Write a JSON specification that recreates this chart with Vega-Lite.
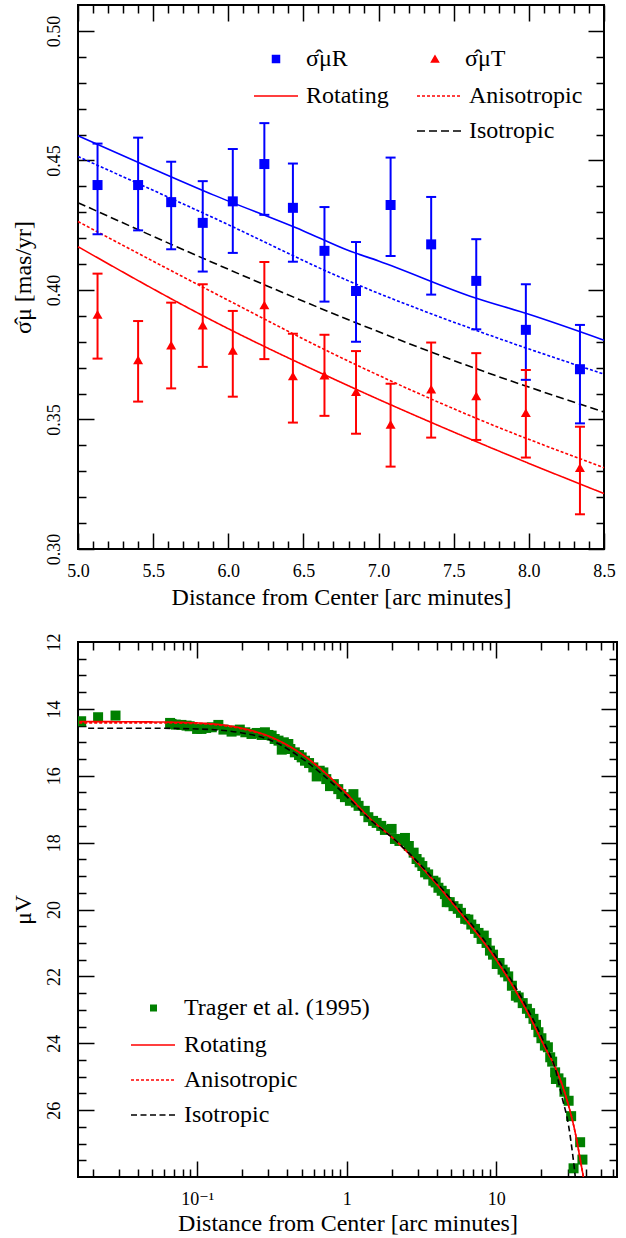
{
  "$schema": "https://vega.github.io/schema/vega-lite/v6.json",
  "background": "white",
  "padding": {"left": 10, "top": 3, "right": 5, "bottom": 2},
  "spacing": 22,
  "datasets": {
    "top_pts": [
      {"r": 5.13, "comp": "\u03c3\u0302\u03bcR", "sigma": 0.4405, "lo": 0.4215, "hi": 0.4565},
      {"r": 5.40, "comp": "\u03c3\u0302\u03bcR", "sigma": 0.4405, "lo": 0.4230, "hi": 0.4588},
      {"r": 5.62, "comp": "\u03c3\u0302\u03bcR", "sigma": 0.4339, "lo": 0.4157, "hi": 0.4495},
      {"r": 5.83, "comp": "\u03c3\u0302\u03bcR", "sigma": 0.4259, "lo": 0.4071, "hi": 0.4420},
      {"r": 6.03, "comp": "\u03c3\u0302\u03bcR", "sigma": 0.4342, "lo": 0.4143, "hi": 0.4544},
      {"r": 6.24, "comp": "\u03c3\u0302\u03bcR", "sigma": 0.4486, "lo": 0.4290, "hi": 0.4644},
      {"r": 6.43, "comp": "\u03c3\u0302\u03bcR", "sigma": 0.4317, "lo": 0.4109, "hi": 0.4488},
      {"r": 6.64, "comp": "\u03c3\u0302\u03bcR", "sigma": 0.4151, "lo": 0.3955, "hi": 0.4320},
      {"r": 6.85, "comp": "\u03c3\u0302\u03bcR", "sigma": 0.3996, "lo": 0.3800, "hi": 0.4185},
      {"r": 7.08, "comp": "\u03c3\u0302\u03bcR", "sigma": 0.4328, "lo": 0.4131, "hi": 0.4511},
      {"r": 7.35, "comp": "\u03c3\u0302\u03bcR", "sigma": 0.4176, "lo": 0.3982, "hi": 0.4359},
      {"r": 7.65, "comp": "\u03c3\u0302\u03bcR", "sigma": 0.4035, "lo": 0.3848, "hi": 0.4196},
      {"r": 7.98, "comp": "\u03c3\u0302\u03bcR", "sigma": 0.3846, "lo": 0.3653, "hi": 0.4022},
      {"r": 8.34, "comp": "\u03c3\u0302\u03bcR", "sigma": 0.3694, "lo": 0.3485, "hi": 0.3865},
      {"r": 5.13, "comp": "\u03c3\u0302\u03bcT", "sigma": 0.3906, "lo": 0.3735, "hi": 0.4063},
      {"r": 5.40, "comp": "\u03c3\u0302\u03bcT", "sigma": 0.3730, "lo": 0.3569, "hi": 0.3880},
      {"r": 5.62, "comp": "\u03c3\u0302\u03bcT", "sigma": 0.3787, "lo": 0.3620, "hi": 0.3951},
      {"r": 5.83, "comp": "\u03c3\u0302\u03bcT", "sigma": 0.3864, "lo": 0.3703, "hi": 0.4022},
      {"r": 6.03, "comp": "\u03c3\u0302\u03bcT", "sigma": 0.3767, "lo": 0.3588, "hi": 0.3919},
      {"r": 6.24, "comp": "\u03c3\u0302\u03bcT", "sigma": 0.3942, "lo": 0.3733, "hi": 0.4108},
      {"r": 6.43, "comp": "\u03c3\u0302\u03bcT", "sigma": 0.3668, "lo": 0.3488, "hi": 0.3831},
      {"r": 6.64, "comp": "\u03c3\u0302\u03bcT", "sigma": 0.3671, "lo": 0.3514, "hi": 0.3827},
      {"r": 6.85, "comp": "\u03c3\u0302\u03bcT", "sigma": 0.3607, "lo": 0.3445, "hi": 0.3764},
      {"r": 7.08, "comp": "\u03c3\u0302\u03bcT", "sigma": 0.3481, "lo": 0.3318, "hi": 0.3638},
      {"r": 7.35, "comp": "\u03c3\u0302\u03bcT", "sigma": 0.3617, "lo": 0.3430, "hi": 0.3797},
      {"r": 7.65, "comp": "\u03c3\u0302\u03bcT", "sigma": 0.3591, "lo": 0.3421, "hi": 0.3756},
      {"r": 7.98, "comp": "\u03c3\u0302\u03bcT", "sigma": 0.3526, "lo": 0.3353, "hi": 0.3691},
      {"r": 8.34, "comp": "\u03c3\u0302\u03bcT", "sigma": 0.3314, "lo": 0.3134, "hi": 0.3472}
    ],
    "top_models": [
      {"comp": "R", "model": "Rotating", "r": 5.0, "sigma": 0.4595},
      {"comp": "R", "model": "Rotating", "r": 5.5, "sigma": 0.4467},
      {"comp": "R", "model": "Rotating", "r": 5.9, "sigma": 0.4367},
      {"comp": "R", "model": "Rotating", "r": 6.5, "sigma": 0.4228},
      {"comp": "R", "model": "Rotating", "r": 6.8, "sigma": 0.4152},
      {"comp": "R", "model": "Rotating", "r": 7.0, "sigma": 0.4112},
      {"comp": "R", "model": "Rotating", "r": 7.64, "sigma": 0.3970},
      {"comp": "R", "model": "Rotating", "r": 8.0, "sigma": 0.3906},
      {"comp": "R", "model": "Rotating", "r": 8.5, "sigma": 0.3806},
      {"comp": "R", "model": "Anisotropic", "r": 5.0, "sigma": 0.4515},
      {"comp": "R", "model": "Anisotropic", "r": 5.9, "sigma": 0.4279},
      {"comp": "R", "model": "Anisotropic", "r": 6.8, "sigma": 0.4035},
      {"comp": "R", "model": "Anisotropic", "r": 7.64, "sigma": 0.3846},
      {"comp": "R", "model": "Anisotropic", "r": 8.5, "sigma": 0.3675},
      {"comp": "both", "model": "Isotropic", "r": 5.0, "sigma": 0.4337},
      {"comp": "both", "model": "Isotropic", "r": 5.9, "sigma": 0.4105},
      {"comp": "both", "model": "Isotropic", "r": 6.8, "sigma": 0.3885},
      {"comp": "both", "model": "Isotropic", "r": 7.64, "sigma": 0.3698},
      {"comp": "both", "model": "Isotropic", "r": 8.5, "sigma": 0.3529},
      {"comp": "T", "model": "Anisotropic", "r": 5.0, "sigma": 0.4264},
      {"comp": "T", "model": "Anisotropic", "r": 5.9, "sigma": 0.3990},
      {"comp": "T", "model": "Anisotropic", "r": 6.8, "sigma": 0.3725},
      {"comp": "T", "model": "Anisotropic", "r": 7.64, "sigma": 0.3507},
      {"comp": "T", "model": "Anisotropic", "r": 8.5, "sigma": 0.3314},
      {"comp": "T", "model": "Rotating", "r": 5.0, "sigma": 0.4167},
      {"comp": "T", "model": "Rotating", "r": 5.9, "sigma": 0.3880},
      {"comp": "T", "model": "Rotating", "r": 6.8, "sigma": 0.3630},
      {"comp": "T", "model": "Rotating", "r": 7.64, "sigma": 0.3417},
      {"comp": "T", "model": "Rotating", "r": 8.5, "sigma": 0.3214}
    ],
    "trager": [
      {"src": "Trager et al. (1995)", "r": 0.0168, "mu": 14.37},
      {"src": "Trager et al. (1995)", "r": 0.0218, "mu": 14.25},
      {"src": "Trager et al. (1995)", "r": 0.0285, "mu": 14.20},
      {"src": "Trager et al. (1995)", "r": 0.066, "mu": 14.42},
      {"src": "Trager et al. (1995)", "r": 0.0675, "mu": 14.45},
      {"src": "Trager et al. (1995)", "r": 0.072, "mu": 14.47},
      {"src": "Trager et al. (1995)", "r": 0.0786, "mu": 14.48},
      {"src": "Trager et al. (1995)", "r": 0.085, "mu": 14.50},
      {"src": "Trager et al. (1995)", "r": 0.0892, "mu": 14.52},
      {"src": "Trager et al. (1995)", "r": 0.100, "mu": 14.60},
      {"src": "Trager et al. (1995)", "r": 0.107, "mu": 14.60},
      {"src": "Trager et al. (1995)", "r": 0.115, "mu": 14.57},
      {"src": "Trager et al. (1995)", "r": 0.1254, "mu": 14.55},
      {"src": "Trager et al. (1995)", "r": 0.1387, "mu": 14.48},
      {"src": "Trager et al. (1995)", "r": 0.150, "mu": 14.62},
      {"src": "Trager et al. (1995)", "r": 0.170, "mu": 14.68},
      {"src": "Trager et al. (1995)", "r": 0.180, "mu": 14.65},
      {"src": "Trager et al. (1995)", "r": 0.193, "mu": 14.62},
      {"src": "Trager et al. (1995)", "r": 0.210, "mu": 14.70},
      {"src": "Trager et al. (1995)", "r": 0.231, "mu": 14.75},
      {"src": "Trager et al. (1995)", "r": 0.250, "mu": 14.72},
      {"src": "Trager et al. (1995)", "r": 0.270, "mu": 14.78},
      {"src": "Trager et al. (1995)", "r": 0.284, "mu": 14.70},
      {"src": "Trager et al. (1995)", "r": 0.300, "mu": 14.78},
      {"src": "Trager et al. (1995)", "r": 0.315, "mu": 14.80},
      {"src": "Trager et al. (1995)", "r": 0.330, "mu": 14.90},
      {"src": "Trager et al. (1995)", "r": 0.350, "mu": 14.95},
      {"src": "Trager et al. (1995)", "r": 0.368, "mu": 15.22},
      {"src": "Trager et al. (1995)", "r": 0.380, "mu": 15.00},
      {"src": "Trager et al. (1995)", "r": 0.407, "mu": 15.05},
      {"src": "Trager et al. (1995)", "r": 0.420, "mu": 15.20},
      {"src": "Trager et al. (1995)", "r": 0.450, "mu": 15.30},
      {"src": "Trager et al. (1995)", "r": 0.480, "mu": 15.38},
      {"src": "Trager et al. (1995)", "r": 0.500, "mu": 15.45},
      {"src": "Trager et al. (1995)", "r": 0.526, "mu": 15.55},
      {"src": "Trager et al. (1995)", "r": 0.560, "mu": 15.62},
      {"src": "Trager et al. (1995)", "r": 0.598, "mu": 15.75},
      {"src": "Trager et al. (1995)", "r": 0.630, "mu": 16.02},
      {"src": "Trager et al. (1995)", "r": 0.660, "mu": 15.85},
      {"src": "Trager et al. (1995)", "r": 0.698, "mu": 15.90},
      {"src": "Trager et al. (1995)", "r": 0.730, "mu": 16.10},
      {"src": "Trager et al. (1995)", "r": 0.773, "mu": 16.31},
      {"src": "Trager et al. (1995)", "r": 0.820, "mu": 16.25},
      {"src": "Trager et al. (1995)", "r": 0.878, "mu": 16.40},
      {"src": "Trager et al. (1995)", "r": 0.920, "mu": 16.55},
      {"src": "Trager et al. (1995)", "r": 0.973, "mu": 16.64},
      {"src": "Trager et al. (1995)", "r": 1.050, "mu": 16.75},
      {"src": "Trager et al. (1995)", "r": 1.108, "mu": 16.55},
      {"src": "Trager et al. (1995)", "r": 1.150, "mu": 16.80},
      {"src": "Trager et al. (1995)", "r": 1.200, "mu": 16.90},
      {"src": "Trager et al. (1995)", "r": 1.320, "mu": 17.05},
      {"src": "Trager et al. (1995)", "r": 1.395, "mu": 17.24},
      {"src": "Trager et al. (1995)", "r": 1.500, "mu": 17.35},
      {"src": "Trager et al. (1995)", "r": 1.585, "mu": 17.41},
      {"src": "Trager et al. (1995)", "r": 1.700, "mu": 17.50},
      {"src": "Trager et al. (1995)", "r": 1.800, "mu": 17.62},
      {"src": "Trager et al. (1995)", "r": 1.995, "mu": 17.59},
      {"src": "Trager et al. (1995)", "r": 2.100, "mu": 17.89},
      {"src": "Trager et al. (1995)", "r": 2.250, "mu": 17.95},
      {"src": "Trager et al. (1995)", "r": 2.450, "mu": 17.86},
      {"src": "Trager et al. (1995)", "r": 2.600, "mu": 18.10},
      {"src": "Trager et al. (1995)", "r": 2.800, "mu": 18.30},
      {"src": "Trager et al. (1995)", "r": 2.930, "mu": 18.49},
      {"src": "Trager et al. (1995)", "r": 3.070, "mu": 18.59},
      {"src": "Trager et al. (1995)", "r": 3.200, "mu": 18.70},
      {"src": "Trager et al. (1995)", "r": 3.340, "mu": 18.89},
      {"src": "Trager et al. (1995)", "r": 3.500, "mu": 18.95},
      {"src": "Trager et al. (1995)", "r": 3.790, "mu": 19.14},
      {"src": "Trager et al. (1995)", "r": 3.930, "mu": 19.19},
      {"src": "Trager et al. (1995)", "r": 4.100, "mu": 19.35},
      {"src": "Trager et al. (1995)", "r": 4.310, "mu": 19.44},
      {"src": "Trager et al. (1995)", "r": 4.530, "mu": 19.54},
      {"src": "Trager et al. (1995)", "r": 4.660, "mu": 19.78},
      {"src": "Trager et al. (1995)", "r": 4.880, "mu": 19.78},
      {"src": "Trager et al. (1995)", "r": 5.170, "mu": 19.90},
      {"src": "Trager et al. (1995)", "r": 5.520, "mu": 19.98},
      {"src": "Trager et al. (1995)", "r": 5.800, "mu": 20.10},
      {"src": "Trager et al. (1995)", "r": 6.190, "mu": 20.28},
      {"src": "Trager et al. (1995)", "r": 6.500, "mu": 20.30},
      {"src": "Trager et al. (1995)", "r": 6.800, "mu": 20.45},
      {"src": "Trager et al. (1995)", "r": 7.200, "mu": 20.58},
      {"src": "Trager et al. (1995)", "r": 7.600, "mu": 20.70},
      {"src": "Trager et al. (1995)", "r": 7.970, "mu": 20.88},
      {"src": "Trager et al. (1995)", "r": 8.240, "mu": 20.78},
      {"src": "Trager et al. (1995)", "r": 8.600, "mu": 21.00},
      {"src": "Trager et al. (1995)", "r": 9.060, "mu": 21.23},
      {"src": "Trager et al. (1995)", "r": 9.500, "mu": 21.35},
      {"src": "Trager et al. (1995)", "r": 10.06, "mu": 21.63},
      {"src": "Trager et al. (1995)", "r": 10.50, "mu": 21.60},
      {"src": "Trager et al. (1995)", "r": 11.00, "mu": 21.80},
      {"src": "Trager et al. (1995)", "r": 11.40, "mu": 21.88},
      {"src": "Trager et al. (1995)", "r": 12.00, "mu": 22.00},
      {"src": "Trager et al. (1995)", "r": 12.70, "mu": 22.28},
      {"src": "Trager et al. (1995)", "r": 13.50, "mu": 22.58},
      {"src": "Trager et al. (1995)", "r": 14.10, "mu": 22.63},
      {"src": "Trager et al. (1995)", "r": 15.00, "mu": 22.80},
      {"src": "Trager et al. (1995)", "r": 16.00, "mu": 22.97},
      {"src": "Trager et al. (1995)", "r": 16.80, "mu": 23.10},
      {"src": "Trager et al. (1995)", "r": 17.70, "mu": 23.27},
      {"src": "Trager et al. (1995)", "r": 18.40, "mu": 23.45},
      {"src": "Trager et al. (1995)", "r": 19.10, "mu": 23.67},
      {"src": "Trager et al. (1995)", "r": 20.00, "mu": 23.85},
      {"src": "Trager et al. (1995)", "r": 21.10, "mu": 24.07},
      {"src": "Trager et al. (1995)", "r": 22.10, "mu": 24.12},
      {"src": "Trager et al. (1995)", "r": 22.90, "mu": 24.42},
      {"src": "Trager et al. (1995)", "r": 23.60, "mu": 24.55},
      {"src": "Trager et al. (1995)", "r": 24.70, "mu": 24.87},
      {"src": "Trager et al. (1995)", "r": 25.00, "mu": 25.07},
      {"src": "Trager et al. (1995)", "r": 26.00, "mu": 25.05},
      {"src": "Trager et al. (1995)", "r": 27.10, "mu": 25.17},
      {"src": "Trager et al. (1995)", "r": 28.50, "mu": 25.45},
      {"src": "Trager et al. (1995)", "r": 30.40, "mu": 25.72},
      {"src": "Trager et al. (1995)", "r": 31.60, "mu": 26.18},
      {"src": "Trager et al. (1995)", "r": 36.30, "mu": 26.96},
      {"src": "Trager et al. (1995)", "r": 37.60, "mu": 27.48},
      {"src": "Trager et al. (1995)", "r": 32.80, "mu": 27.74}
    ],
    "bottom_models": [
      {"model": "Rotating", "r": 0.0163, "mu": 14.38},
      {"model": "Rotating", "r": 0.05, "mu": 14.39},
      {"model": "Rotating", "r": 0.1, "mu": 14.42},
      {"model": "Rotating", "r": 0.2, "mu": 14.58},
      {"model": "Rotating", "r": 0.315, "mu": 14.85},
      {"model": "Rotating", "r": 0.526, "mu": 15.42},
      {"model": "Rotating", "r": 0.878, "mu": 16.28},
      {"model": "Rotating", "r": 1.47, "mu": 17.33},
      {"model": "Rotating", "r": 2.1, "mu": 17.92},
      {"model": "Rotating", "r": 3.52, "mu": 18.96},
      {"model": "Rotating", "r": 5.87, "mu": 20.15},
      {"model": "Rotating", "r": 9.8, "mu": 21.45},
      {"model": "Rotating", "r": 16.4, "mu": 23.13},
      {"model": "Rotating", "r": 21.1, "mu": 24.12},
      {"model": "Rotating", "r": 24.7, "mu": 24.72},
      {"model": "Rotating", "r": 27.3, "mu": 25.2},
      {"model": "Rotating", "r": 30.4, "mu": 25.87},
      {"model": "Rotating", "r": 33.6, "mu": 26.66},
      {"model": "Rotating", "r": 36.3, "mu": 27.46},
      {"model": "Rotating", "r": 38.5, "mu": 28.1},
      {"model": "Anisotropic", "r": 0.0163, "mu": 14.42},
      {"model": "Anisotropic", "r": 0.05, "mu": 14.42},
      {"model": "Anisotropic", "r": 0.1, "mu": 14.44},
      {"model": "Anisotropic", "r": 0.2, "mu": 14.6},
      {"model": "Anisotropic", "r": 0.315, "mu": 14.86},
      {"model": "Anisotropic", "r": 0.526, "mu": 15.42},
      {"model": "Anisotropic", "r": 0.878, "mu": 16.28},
      {"model": "Anisotropic", "r": 1.47, "mu": 17.33},
      {"model": "Anisotropic", "r": 2.1, "mu": 17.92},
      {"model": "Anisotropic", "r": 3.52, "mu": 18.96},
      {"model": "Anisotropic", "r": 5.87, "mu": 20.15},
      {"model": "Anisotropic", "r": 9.8, "mu": 21.45},
      {"model": "Anisotropic", "r": 16.4, "mu": 23.13},
      {"model": "Anisotropic", "r": 21.1, "mu": 24.12},
      {"model": "Anisotropic", "r": 24.7, "mu": 24.72},
      {"model": "Anisotropic", "r": 27.3, "mu": 25.2},
      {"model": "Anisotropic", "r": 30.4, "mu": 25.87},
      {"model": "Anisotropic", "r": 33.6, "mu": 26.66},
      {"model": "Anisotropic", "r": 36.3, "mu": 27.46},
      {"model": "Anisotropic", "r": 38.5, "mu": 28.1},
      {"model": "Isotropic", "r": 0.0187, "mu": 14.58},
      {"model": "Isotropic", "r": 0.05, "mu": 14.58},
      {"model": "Isotropic", "r": 0.1, "mu": 14.6},
      {"model": "Isotropic", "r": 0.2, "mu": 14.72},
      {"model": "Isotropic", "r": 0.315, "mu": 14.95},
      {"model": "Isotropic", "r": 0.526, "mu": 15.55},
      {"model": "Isotropic", "r": 0.878, "mu": 16.38},
      {"model": "Isotropic", "r": 1.47, "mu": 17.36},
      {"model": "Isotropic", "r": 2.1, "mu": 17.92},
      {"model": "Isotropic", "r": 3.52, "mu": 18.92},
      {"model": "Isotropic", "r": 5.87, "mu": 20.08},
      {"model": "Isotropic", "r": 9.8, "mu": 21.36},
      {"model": "Isotropic", "r": 16.4, "mu": 23.02},
      {"model": "Isotropic", "r": 21.1, "mu": 24.02},
      {"model": "Isotropic", "r": 24.7, "mu": 24.75},
      {"model": "Isotropic", "r": 27.3, "mu": 25.57},
      {"model": "Isotropic", "r": 30.4, "mu": 26.47},
      {"model": "Isotropic", "r": 32.0, "mu": 27.16},
      {"model": "Isotropic", "r": 33.6, "mu": 27.96},
      {"model": "Isotropic", "r": 34.0, "mu": 28.2}
    ]
  },
  "vconcat": [
    {
      "width": 526,
      "height": 544,
      "resolve": {"axis": {"x": "independent", "y": "independent"}},
      "layer": [
        {
          "data": {"name": "top_models"},
          "transform": [{"filter": "datum.model == 'Rotating' && datum.comp == 'R'"}],
          "mark": {"type": "line", "color": "#0000ff", "strokeWidth": 1.6, "interpolate": "monotone"},
          "encoding": {
            "x": {"field": "r", "type": "quantitative", "scale": {"domain": [5, 8.5], "nice": false, "zero": false},
              "axis": {"orient": "bottom", "values": [5, 5.5, 6, 6.5, 7, 7.5, 8, 8.5], "format": ".1f", "ticks": false, "labelPadding": 13, "title": "Distance from Center [arc minutes]", "titlePadding": 5}},
            "y": {"field": "sigma", "type": "quantitative", "scale": {"domain": [0.3, 0.51], "nice": false, "zero": false},
              "axis": {"orient": "left", "values": [0.3, 0.35, 0.4, 0.45, 0.5], "format": ".2f", "ticks": false, "labelAngle": -90, "labelAlign": "center", "labelBaseline": "bottom", "labelPadding": 15, "title": "\u03c3\u0302\u03bc [mas/yr]", "titlePadding": 10}}
          }
        },
        {
          "data": {"name": "top_models"},
          "transform": [{"filter": "datum.model == 'Anisotropic' && datum.comp == 'R'"}],
          "mark": {"type": "line", "color": "#0000ff", "strokeWidth": 1.6, "strokeDash": [3, 2], "interpolate": "monotone"},
          "encoding": {
            "x": {"field": "r", "type": "quantitative", "scale": {"domain": [5, 8.5], "nice": false, "zero": false},
              "axis": {"orient": "bottom", "values": [5, 5.5, 6, 6.5, 7, 7.5, 8, 8.5], "labels": false, "tickSize": -16, "title": null}},
            "y": {"field": "sigma", "type": "quantitative", "scale": {"domain": [0.3, 0.51], "nice": false, "zero": false},
              "axis": {"orient": "left", "values": [0.3, 0.35, 0.4, 0.45, 0.5], "labels": false, "tickSize": -16, "title": null}}
          }
        },
        {
          "data": {"name": "top_models"},
          "transform": [{"filter": "datum.model == 'Isotropic'"}],
          "mark": {"type": "line", "strokeWidth": 1.6, "interpolate": "monotone"},
          "encoding": {
            "x": {"field": "r", "type": "quantitative", "scale": {"domain": [5, 8.5], "nice": false, "zero": false},
              "axis": {"orient": "bottom", "values": [5.1, 5.2, 5.3, 5.4, 5.6, 5.7, 5.8, 5.9, 6.1, 6.2, 6.3, 6.4, 6.6, 6.7, 6.8, 6.9, 7.1, 7.2, 7.3, 7.4, 7.6, 7.7, 7.8, 7.9, 8.1, 8.2, 8.3, 8.4], "labels": false, "tickSize": -8, "title": null}},
            "y": {"field": "sigma", "type": "quantitative", "scale": {"domain": [0.3, 0.51], "nice": false, "zero": false},
              "axis": {"orient": "left", "values": [0.31, 0.32, 0.33, 0.34, 0.36, 0.37, 0.38, 0.39, 0.41, 0.42, 0.43, 0.44, 0.46, 0.47, 0.48, 0.49], "labels": false, "tickSize": -8, "title": null}},
            "stroke": {"field": "model", "type": "nominal",
              "scale": {"domain": ["Rotating", " ", "Anisotropic", "Isotropic"], "range": ["#ff0000", "transparent", "#ff0000", "#000000"]},
              "legend": {"orient": "none", "legendX": 175, "legendY": 68, "columns": 2, "columnPadding": 24, "rowPadding": 0, "title": null, "padding": 0, "symbolType": "stroke", "symbolSize": 1936, "symbolStrokeWidth": 1.6, "labelOffset": 7, "labelLimit": 0}},
            "strokeDash": {"field": "model", "type": "nominal",
              "scale": {"domain": ["Rotating", " ", "Anisotropic", "Isotropic"], "range": [[1, 0], [1, 0], [3, 2], [8, 4]]},
              "legend": {"orient": "none", "legendX": 175, "legendY": 68, "columns": 2, "columnPadding": 24, "rowPadding": 0, "title": null, "padding": 0, "symbolType": "stroke", "symbolSize": 1936, "symbolStrokeWidth": 1.6, "labelOffset": 7, "labelLimit": 0}}
          }
        },
        {
          "data": {"name": "top_models"},
          "transform": [{"filter": "datum.model == 'Anisotropic' && datum.comp == 'T'"}],
          "mark": {"type": "line", "strokeWidth": 1.6, "interpolate": "monotone"},
          "encoding": {
            "x": {"field": "r", "type": "quantitative", "scale": {"domain": [5, 8.5], "nice": false, "zero": false},
              "axis": {"orient": "top", "values": [5, 5.5, 6, 6.5, 7, 7.5, 8, 8.5], "labels": false, "tickSize": -16, "title": null}},
            "y": {"field": "sigma", "type": "quantitative", "scale": {"domain": [0.3, 0.51], "nice": false, "zero": false},
              "axis": {"orient": "right", "values": [0.3, 0.35, 0.4, 0.45, 0.5], "labels": false, "tickSize": -16, "title": null}},
            "stroke": {"field": "model", "type": "nominal",
              "scale": {"domain": ["Rotating", " ", "Anisotropic", "Isotropic"], "range": ["#ff0000", "transparent", "#ff0000", "#000000"]},
              "legend": {"orient": "none", "legendX": 175, "legendY": 68, "columns": 2, "columnPadding": 24, "rowPadding": 0, "title": null, "padding": 0, "symbolType": "stroke", "symbolSize": 1936, "symbolStrokeWidth": 1.6, "labelOffset": 7, "labelLimit": 0}},
            "strokeDash": {"field": "model", "type": "nominal",
              "scale": {"domain": ["Rotating", " ", "Anisotropic", "Isotropic"], "range": [[1, 0], [1, 0], [3, 2], [8, 4]]},
              "legend": {"orient": "none", "legendX": 175, "legendY": 68, "columns": 2, "columnPadding": 24, "rowPadding": 0, "title": null, "padding": 0, "symbolType": "stroke", "symbolSize": 1936, "symbolStrokeWidth": 1.6, "labelOffset": 7, "labelLimit": 0}}
          }
        },
        {
          "data": {"name": "top_models"},
          "transform": [{"filter": "datum.model == 'Rotating' && datum.comp == 'T'"}],
          "mark": {"type": "line", "strokeWidth": 1.6, "interpolate": "monotone"},
          "encoding": {
            "x": {"field": "r", "type": "quantitative", "scale": {"domain": [5, 8.5], "nice": false, "zero": false},
              "axis": {"orient": "top", "values": [5.1, 5.2, 5.3, 5.4, 5.6, 5.7, 5.8, 5.9, 6.1, 6.2, 6.3, 6.4, 6.6, 6.7, 6.8, 6.9, 7.1, 7.2, 7.3, 7.4, 7.6, 7.7, 7.8, 7.9, 8.1, 8.2, 8.3, 8.4], "labels": false, "tickSize": -8, "title": null}},
            "y": {"field": "sigma", "type": "quantitative", "scale": {"domain": [0.3, 0.51], "nice": false, "zero": false},
              "axis": {"orient": "right", "values": [0.31, 0.32, 0.33, 0.34, 0.36, 0.37, 0.38, 0.39, 0.41, 0.42, 0.43, 0.44, 0.46, 0.47, 0.48, 0.49], "labels": false, "tickSize": -8, "title": null}},
            "stroke": {"field": "model", "type": "nominal",
              "scale": {"domain": ["Rotating", " ", "Anisotropic", "Isotropic"], "range": ["#ff0000", "transparent", "#ff0000", "#000000"]},
              "legend": {"orient": "none", "legendX": 175, "legendY": 68, "columns": 2, "columnPadding": 24, "rowPadding": 0, "title": null, "padding": 0, "symbolType": "stroke", "symbolSize": 1936, "symbolStrokeWidth": 1.6, "labelOffset": 7, "labelLimit": 0}},
            "strokeDash": {"field": "model", "type": "nominal",
              "scale": {"domain": ["Rotating", " ", "Anisotropic", "Isotropic"], "range": [[1, 0], [1, 0], [3, 2], [8, 4]]},
              "legend": {"orient": "none", "legendX": 175, "legendY": 68, "columns": 2, "columnPadding": 24, "rowPadding": 0, "title": null, "padding": 0, "symbolType": "stroke", "symbolSize": 1936, "symbolStrokeWidth": 1.6, "labelOffset": 7, "labelLimit": 0}}
          }
        },
        {
          "data": {"name": "top_pts"},
          "mark": {"type": "rule", "strokeWidth": 2},
          "encoding": {
            "x": {"field": "r", "type": "quantitative", "scale": {"domain": [5, 8.5], "nice": false, "zero": false}, "axis": null},
            "y": {"field": "lo", "type": "quantitative", "scale": {"domain": [0.3, 0.51], "nice": false, "zero": false}, "axis": null},
            "y2": {"field": "hi"},
            "color": {"field": "comp", "type": "nominal", "scale": {"domain": ["\u03c3\u0302\u03bcR", "\u03c3\u0302\u03bcT"], "range": ["#0000ff", "#ff0000"]},
              "legend": {"orient": "none", "legendX": 186, "legendY": 42, "columns": 2, "columnPadding": 75, "title": null, "padding": 0, "symbolSize": 49, "labelOffset": 18, "labelLimit": 0}}
          }
        },
        {
          "data": {"name": "top_pts"},
          "mark": {"type": "tick", "orient": "horizontal", "size": 10, "thickness": 2, "opacity": 1},
          "encoding": {
            "x": {"field": "r", "type": "quantitative", "scale": {"domain": [5, 8.5], "nice": false, "zero": false}, "axis": null},
            "y": {"field": "lo", "type": "quantitative", "scale": {"domain": [0.3, 0.51], "nice": false, "zero": false}, "axis": null},
            "color": {"field": "comp", "type": "nominal", "scale": {"domain": ["\u03c3\u0302\u03bcR", "\u03c3\u0302\u03bcT"], "range": ["#0000ff", "#ff0000"]},
              "legend": {"orient": "none", "legendX": 186, "legendY": 42, "columns": 2, "columnPadding": 75, "title": null, "padding": 0, "symbolSize": 49, "labelOffset": 18, "labelLimit": 0}}
          }
        },
        {
          "data": {"name": "top_pts"},
          "mark": {"type": "tick", "orient": "horizontal", "size": 10, "thickness": 2, "opacity": 1},
          "encoding": {
            "x": {"field": "r", "type": "quantitative", "scale": {"domain": [5, 8.5], "nice": false, "zero": false}, "axis": null},
            "y": {"field": "hi", "type": "quantitative", "scale": {"domain": [0.3, 0.51], "nice": false, "zero": false}, "axis": null},
            "color": {"field": "comp", "type": "nominal", "scale": {"domain": ["\u03c3\u0302\u03bcR", "\u03c3\u0302\u03bcT"], "range": ["#0000ff", "#ff0000"]},
              "legend": {"orient": "none", "legendX": 186, "legendY": 42, "columns": 2, "columnPadding": 75, "title": null, "padding": 0, "symbolSize": 49, "labelOffset": 18, "labelLimit": 0}}
          }
        },
        {
          "data": {"name": "top_pts"},
          "mark": {"type": "point", "filled": true, "size": 100, "opacity": 1},
          "encoding": {
            "x": {"field": "r", "type": "quantitative", "scale": {"domain": [5, 8.5], "nice": false, "zero": false}, "axis": null},
            "y": {"field": "sigma", "type": "quantitative", "scale": {"domain": [0.3, 0.51], "nice": false, "zero": false}, "axis": null},
            "color": {"field": "comp", "type": "nominal", "scale": {"domain": ["\u03c3\u0302\u03bcR", "\u03c3\u0302\u03bcT"], "range": ["#0000ff", "#ff0000"]},
              "legend": {"orient": "none", "legendX": 186, "legendY": 42, "columns": 2, "columnPadding": 75, "title": null, "padding": 0, "symbolSize": 49, "labelOffset": 18, "labelLimit": 0}},
            "shape": {"field": "comp", "type": "nominal", "scale": {"domain": ["\u03c3\u0302\u03bcR", "\u03c3\u0302\u03bcT"], "range": ["square", "triangle-up"]},
              "legend": {"orient": "none", "legendX": 186, "legendY": 42, "columns": 2, "columnPadding": 75, "title": null, "padding": 0, "symbolSize": 49, "labelOffset": 18, "labelLimit": 0}}
          }
        }
      ]
    },
    {
      "width": 539,
      "height": 535,
      "resolve": {"axis": {"x": "independent", "y": "independent"}},
      "layer": [
        {
          "data": {"name": "trager"},
          "transform": [{"filter": "datum.r < 3"}],
          "mark": {"type": "point", "filled": true, "size": 100, "color": "#008000", "opacity": 1, "clip": true},
          "encoding": {
            "x": {"field": "r", "type": "quantitative", "scale": {"type": "log", "domain": [0.016, 64], "nice": false},
              "axis": {"orient": "top", "values": [0.1, 1, 10], "labels": false, "tickSize": -16, "title": null}},
            "y": {"field": "mu", "type": "quantitative", "scale": {"domain": [12, 28], "reverse": true, "nice": false, "zero": false},
              "axis": {"orient": "right", "values": [14, 16, 18, 20, 22, 24, 26], "labels": false, "tickSize": -16, "title": null}},
            "shape": {"field": "src", "type": "nominal",
              "scale": {"domain": ["Trager et al. (1995)"], "range": ["square"]},
              "legend": {"orient": "none", "legendX": 63.5, "legendY": 354, "title": null, "padding": 0, "symbolSize": 49, "symbolFillColor": "#008000", "labelOffset": 18.5, "labelLimit": 0}}
          }
        },
        {
          "data": {"name": "trager"},
          "transform": [{"filter": "datum.r >= 3"}],
          "mark": {"type": "point", "filled": true, "size": 100, "color": "#008000", "opacity": 1, "clip": true},
          "encoding": {
            "x": {"field": "r", "type": "quantitative", "scale": {"type": "log", "domain": [0.016, 64], "nice": false},
              "axis": {"orient": "top", "values": [0.02, 0.03, 0.04, 0.05, 0.06, 0.07, 0.08, 0.09, 0.2, 0.3, 0.4, 0.5, 0.6, 0.7, 0.8, 0.9, 2, 3, 4, 5, 6, 7, 8, 9, 20, 30, 40, 50, 60], "labels": false, "tickSize": -8, "title": null}},
            "y": {"field": "mu", "type": "quantitative", "scale": {"domain": [12, 28], "reverse": true, "nice": false, "zero": false},
              "axis": {"orient": "right", "values": [12.5, 13, 13.5, 14.5, 15, 15.5, 16.5, 17, 17.5, 18.5, 19, 19.5, 20.5, 21, 21.5, 22.5, 23, 23.5, 24.5, 25, 25.5, 26.5, 27, 27.5], "labels": false, "tickSize": -8, "title": null}},
            "shape": {"field": "src", "type": "nominal",
              "scale": {"domain": ["Trager et al. (1995)"], "range": ["square"]},
              "legend": {"orient": "none", "legendX": 63.5, "legendY": 354, "title": null, "padding": 0, "symbolSize": 49, "symbolFillColor": "#008000", "labelOffset": 18.5, "labelLimit": 0}}
          }
        },
        {
          "data": {"name": "bottom_models"},
          "transform": [{"filter": "datum.model == 'Anisotropic'"}],
          "mark": {"type": "line", "strokeWidth": 1.6, "interpolate": "monotone", "clip": true},
          "encoding": {
            "x": {"field": "r", "type": "quantitative", "scale": {"type": "log", "domain": [0.016, 64], "nice": false},
              "axis": {"orient": "bottom", "values": [0.1, 1, 10], "labels": false, "tickSize": -16, "title": null}},
            "y": {"field": "mu", "type": "quantitative", "scale": {"domain": [12, 28], "reverse": true, "nice": false, "zero": false},
              "axis": {"orient": "left", "values": [14, 16, 18, 20, 22, 24, 26], "labels": false, "tickSize": -16, "title": null}},
            "stroke": {"field": "model", "type": "nominal",
              "scale": {"domain": ["Rotating", "Anisotropic", "Isotropic"], "range": ["#ff0000", "#ff0000", "#000000"]},
              "legend": {"orient": "none", "legendX": 52, "legendY": 380, "rowPadding": 0, "title": null, "padding": 0, "symbolType": "stroke", "symbolSize": 1936, "symbolStrokeWidth": 1.6, "labelOffset": 8, "labelLimit": 0}},
            "strokeDash": {"field": "model", "type": "nominal",
              "scale": {"domain": ["Rotating", "Anisotropic", "Isotropic"], "range": [[1, 0], [3, 2], [6, 3.5]]},
              "legend": {"orient": "none", "legendX": 52, "legendY": 380, "rowPadding": 0, "title": null, "padding": 0, "symbolType": "stroke", "symbolSize": 1936, "symbolStrokeWidth": 1.6, "labelOffset": 8, "labelLimit": 0}}
          }
        },
        {
          "data": {"name": "bottom_models"},
          "transform": [{"filter": "datum.model == 'Rotating'"}],
          "mark": {"type": "line", "strokeWidth": 1.6, "interpolate": "monotone", "clip": true},
          "encoding": {
            "x": {"field": "r", "type": "quantitative", "scale": {"type": "log", "domain": [0.016, 64], "nice": false},
              "axis": {"orient": "bottom", "values": [0.1, 1, 10], "labelExpr": "datum.value < 0.5 ? '10\u207b\u00b9' : datum.value < 5 ? '1' : '10'", "ticks": false, "labelPadding": 13, "title": "Distance from Center [arc minutes]", "titlePadding": 3}},
            "y": {"field": "mu", "type": "quantitative", "scale": {"domain": [12, 28], "reverse": true, "nice": false, "zero": false},
              "axis": {"orient": "left", "values": [12, 14, 16, 18, 20, 22, 24, 26], "format": "d", "ticks": false, "labelAngle": -90, "labelAlign": "center", "labelBaseline": "bottom", "labelPadding": 15, "title": "\u03bcV", "titlePadding": 10}},
            "stroke": {"field": "model", "type": "nominal",
              "scale": {"domain": ["Rotating", "Anisotropic", "Isotropic"], "range": ["#ff0000", "#ff0000", "#000000"]},
              "legend": {"orient": "none", "legendX": 52, "legendY": 380, "rowPadding": 0, "title": null, "padding": 0, "symbolType": "stroke", "symbolSize": 1936, "symbolStrokeWidth": 1.6, "labelOffset": 8, "labelLimit": 0}},
            "strokeDash": {"field": "model", "type": "nominal",
              "scale": {"domain": ["Rotating", "Anisotropic", "Isotropic"], "range": [[1, 0], [3, 2], [6, 3.5]]},
              "legend": {"orient": "none", "legendX": 52, "legendY": 380, "rowPadding": 0, "title": null, "padding": 0, "symbolType": "stroke", "symbolSize": 1936, "symbolStrokeWidth": 1.6, "labelOffset": 8, "labelLimit": 0}}
          }
        },
        {
          "data": {"name": "bottom_models"},
          "transform": [{"filter": "datum.model == 'Isotropic'"}],
          "mark": {"type": "line", "strokeWidth": 1.6, "interpolate": "monotone", "clip": true},
          "encoding": {
            "x": {"field": "r", "type": "quantitative", "scale": {"type": "log", "domain": [0.016, 64], "nice": false},
              "axis": {"orient": "bottom", "values": [0.02, 0.03, 0.04, 0.05, 0.06, 0.07, 0.08, 0.09, 0.2, 0.3, 0.4, 0.5, 0.6, 0.7, 0.8, 0.9, 2, 3, 4, 5, 6, 7, 8, 9, 20, 30, 40, 50, 60], "labels": false, "tickSize": -8, "title": null}},
            "y": {"field": "mu", "type": "quantitative", "scale": {"domain": [12, 28], "reverse": true, "nice": false, "zero": false},
              "axis": {"orient": "left", "values": [12.5, 13, 13.5, 14.5, 15, 15.5, 16.5, 17, 17.5, 18.5, 19, 19.5, 20.5, 21, 21.5, 22.5, 23, 23.5, 24.5, 25, 25.5, 26.5, 27, 27.5], "labels": false, "tickSize": -8, "title": null}},
            "stroke": {"field": "model", "type": "nominal",
              "scale": {"domain": ["Rotating", "Anisotropic", "Isotropic"], "range": ["#ff0000", "#ff0000", "#000000"]},
              "legend": {"orient": "none", "legendX": 52, "legendY": 380, "rowPadding": 0, "title": null, "padding": 0, "symbolType": "stroke", "symbolSize": 1936, "symbolStrokeWidth": 1.6, "labelOffset": 8, "labelLimit": 0}},
            "strokeDash": {"field": "model", "type": "nominal",
              "scale": {"domain": ["Rotating", "Anisotropic", "Isotropic"], "range": [[1, 0], [3, 2], [6, 3.5]]},
              "legend": {"orient": "none", "legendX": 52, "legendY": 380, "rowPadding": 0, "title": null, "padding": 0, "symbolType": "stroke", "symbolSize": 1936, "symbolStrokeWidth": 1.6, "labelOffset": 8, "labelLimit": 0}}
          }
        }
      ]
    }
  ],
  "resolve": {
    "scale": {"color": "independent", "shape": "independent", "stroke": "independent", "strokeDash": "independent"},
    "legend": {"color": "independent", "shape": "independent", "stroke": "independent", "strokeDash": "independent"}
  },
  "config": {
    "font": "Liberation Serif, DejaVu Serif, serif",
    "view": {"stroke": "#000000", "strokeWidth": 2},
    "axis": {
      "domain": false, "grid": false,
      "labelFont": "Liberation Serif, DejaVu Serif, serif", "labelFontSize": 18, "labelColor": "#000000", "labelFlush": false, "labelOverlap": false,
      "titleFont": "Liberation Serif, DejaVu Serif, serif", "titleFontSize": 24, "titleFontWeight": "normal", "titleColor": "#000000",
      "tickColor": "#000000", "tickWidth": 1.5
    },
    "legend": {
      "labelFont": "Liberation Serif, DejaVu Serif, serif", "labelFontSize": 24, "labelColor": "#000000"
    }
  }
}
